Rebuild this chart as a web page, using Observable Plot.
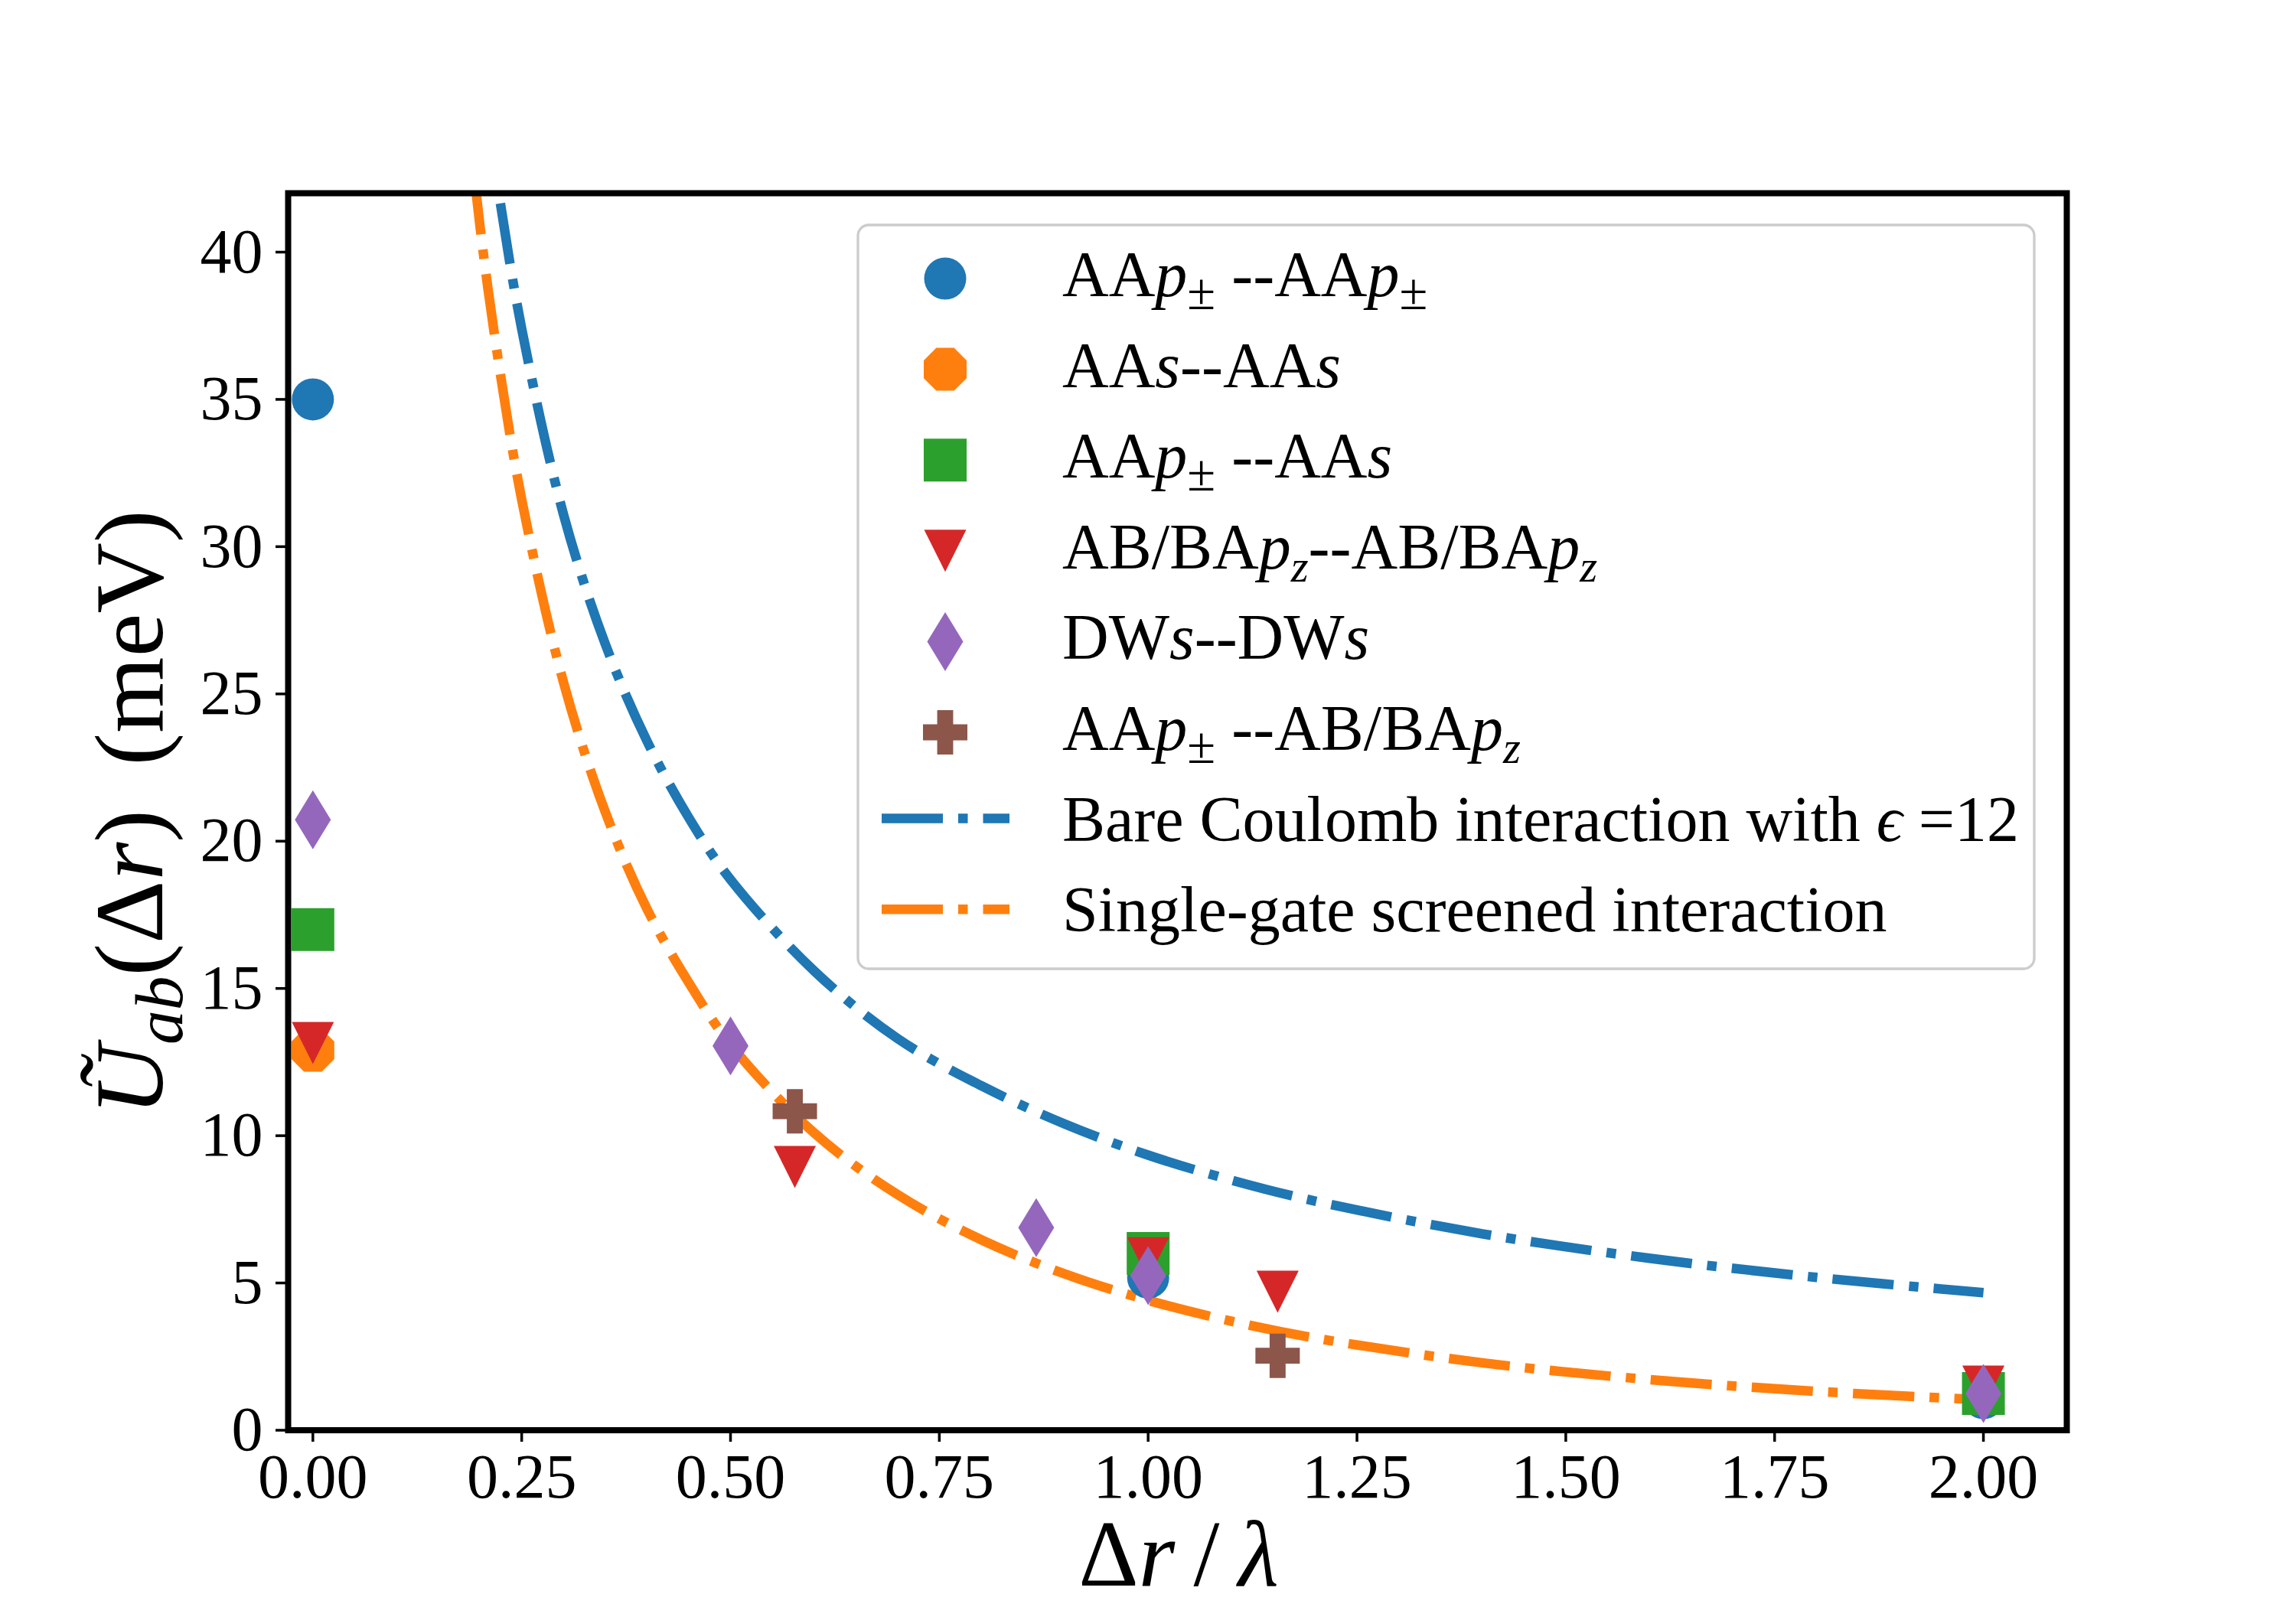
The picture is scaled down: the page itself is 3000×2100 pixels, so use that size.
<!DOCTYPE html>
<html>
<head>
<meta charset="utf-8">
<script src="https://cdn.jsdelivr.net/npm/d3@7"></script>
<script src="https://cdn.jsdelivr.net/npm/@observablehq/plot@0.6"></script>
<style>
  html, body { margin: 0; padding: 0; background: #fff; }
  #chart { width: 3000px; height: 2100px; }
</style>
</head>
<body>
<div id="chart"></div>
<script>
// ---------- data ----------
const xTicks = [0, 0.25, 0.5, 0.75, 1.0, 1.25, 1.5, 1.75, 2.0];
const yTicks = [0, 5, 10, 15, 20, 25, 30, 35, 40];

const seriesNames = [
  "AAp±--AAp±", "AAs--AAs", "AAp±--AAs", "AB/BApz--AB/BApz", "DWs--DWs", "AAp±--AB/BApz"
];
const seriesColors = ["#1f77b4", "#ff7f0e", "#2ca02c", "#d62728", "#9467bd", "#8c564b"];

const aapmX = [0, 1.0, 2.0];
const aapmY = [35.0, 5.18, 1.09];
const aasX = [0];
const aasY = [12.9];
const aapmAasX = [0, 1.0, 2.0];
const aapmAasY = [17.0, 6.0, 1.25];
const abbaX = [0, 0.577, 1.0, 1.155, 2.0];
const abbaY = [13.15, 8.94, 5.84, 4.7, 1.48];
const dwX = [0, 0.5, 0.866, 1.0, 2.0];
const dwY = [20.73, 13.05, 6.88, 5.25, 1.25];
const aapmAbbaX = [0.577, 1.155];
const aapmAbbaY = [10.83, 2.53];

const curveNames = ["Bare Coulomb interaction with ϵ =12", "Single-gate screened interaction"];
const curveColors = ["#1f77b4", "#ff7f0e"];
const curveX = [0.18, 0.2, 0.22, 0.25, 0.3, 0.35, 0.4, 0.45, 0.5, 0.6, 0.7, 0.8, 0.9, 1.0, 1.1, 1.2, 1.4, 1.6, 1.8, 2.0];
const coulombY = [51.9, 46.7, 42.5, 37.4, 31.1, 26.7, 23.4, 20.8, 18.7, 15.6, 13.3, 11.7, 10.4, 9.34, 8.49, 7.78, 6.67, 5.84, 5.19, 4.67];
const screenedY = [46.1, 40.9, 36.7, 31.6, 25.4, 21.0, 17.7, 15.2, 13.1, 10.1, 8.0, 6.47, 5.31, 4.41, 3.70, 3.13, 2.29, 1.72, 1.32, 1.03];

// ---------- helpers ----------
const pts = (xs, ys) => xs.map((x, i) => ({x, y: ys[i]}));

function polySymbol(vertices) {
  return {
    draw(ctx, size) {
      const r = Math.sqrt(size / Math.PI);
      ctx.moveTo(vertices[0][0] * r, vertices[0][1] * r);
      for (let k = 1; k < vertices.length; ++k) ctx.lineTo(vertices[k][0] * r, vertices[k][1] * r);
      ctx.closePath();
    }
  };
}
const a = 0.36;
const symSquare = polySymbol([[-1, -1], [1, -1], [1, 1], [-1, 1]]);
const symTriDown = polySymbol([[-1, -1], [1, -1], [0, 1]]);
const symThinDiamond = polySymbol([[0, -1], [0.61, 0], [0, 1], [-0.61, 0]]);
const symOctagon = polySymbol(d3.range(8).map(k => [Math.cos(Math.PI / 8 + k * Math.PI / 4), Math.sin(Math.PI / 8 + k * Math.PI / 4)]));
const symPlus = polySymbol([[-a, -1], [a, -1], [a, -a], [1, -a], [1, a], [a, a], [a, 1], [-a, 1], [-a, a], [-1, a], [-1, -a], [-a, -a]]);

const markerSpecs = [
  {sym: d3.symbolCircle, plotSym: "circle", r: 27.5},
  {sym: symOctagon, plotSym: symOctagon, r: 30.3},
  {sym: symSquare, plotSym: symSquare, r: 28},
  {sym: symTriDown, plotSym: symTriDown, r: 27.5},
  {sym: symThinDiamond, plotSym: symThinDiamond, r: 38.5},
  {sym: symPlus, plotSym: symPlus, r: 29}
];
const seriesData = [
  pts(aapmX, aapmY), pts(aasX, aasY), pts(aapmAasX, aapmAasY),
  pts(abbaX, abbaY), pts(dwX, dwY), pts(aapmAbbaX, aapmAbbaY)
];

const LW = 12.5;
const dash = [6.4 * LW, 1.6 * LW, 1.0 * LW, 1.6 * LW].join(",");

const W = 3000, H = 2100;
const svg = Plot.plot({
  width: W,
  height: H,
  marginTop: 252,
  marginRight: 300,
  marginBottom: 231.5,
  marginLeft: 376,
  x: {domain: [-0.0296, 2.0998]},
  y: {domain: [0, 42]},
  style: {fontFamily: "'Liberation Serif', 'Times New Roman', serif", fontSize: "82px", color: "#000", background: "#fff"},
  marks: [
    Plot.line(pts(curveX, coulombY), {x: "x", y: "y", stroke: curveColors[0], strokeWidth: LW, strokeDasharray: dash, strokeLinecap: "butt", curve: "catmull-rom", clip: true}),
    Plot.line(pts(curveX, screenedY), {x: "x", y: "y", stroke: curveColors[1], strokeWidth: LW, strokeDasharray: dash, strokeLinecap: "butt", curve: "catmull-rom", clip: true}),
    ...seriesData.map((d, i) => Plot.dot(d, {x: "x", y: "y", r: markerSpecs[i].r, symbol: markerSpecs[i].plotSym, fill: seriesColors[i], stroke: "none"})),
    Plot.axisX({ticks: xTicks, tickFormat: d3.format(".2f"), tickSize: 15.5, tickPadding: 14, strokeWidth: 3.5, fontSize: 82, label: null}),
    Plot.axisY({ticks: yTicks, tickFormat: d => String(d), tickSize: 16, tickPadding: 17, strokeWidth: 3.5, fontSize: 82, label: null}),
    Plot.frame({stroke: "#000", strokeWidth: 8})
  ]
});
document.getElementById("chart").appendChild(svg);

// ---------- axis titles and legend (text drawn on the SVG) ----------
const root = d3.select(svg);
const serif = "'Liberation Serif', 'Times New Roman', serif";

function richText(sel, segments, fs) {
  let shift = 0;
  segments.forEach(([t, s]) => {
    const sub = s === "sub" || s === "subi";
    const ital = s === "i" || s === "subi";
    const want = sub ? fs * 0.2 : 0;
    const ts = sel.append("tspan").text(t)
      .attr("font-style", ital ? "italic" : "normal")
      .attr("font-size", sub ? fs * (s === "sub" ? 0.8 : 0.7) : fs);
    if (want !== shift) { ts.attr("dy", want - shift); shift = want; }
  });
}

// y label
const yl = root.append("text")
  .attr("transform", "translate(212,1062) rotate(-90)")
  .attr("text-anchor", "middle")
  .attr("font-family", serif)
  .attr("font-size", 128)
  .attr("fill", "#000");
(function () {
  const fs = 128;
  yl.append("tspan").text("Ũ").attr("font-style", "italic");
  yl.append("tspan").text("ab").attr("font-style", "italic").attr("font-size", fs * 0.7).attr("dy", fs * 0.2);
  yl.append("tspan").text("(").attr("dy", -fs * 0.2);
  yl.append("tspan").text("Δ");
  yl.append("tspan").text("r").attr("font-style", "italic");
  yl.append("tspan").text(")\u2009");
  yl.append("tspan").text(" (meV)");
})();

// x label
const xl = root.append("text")
  .attr("x", 1540).attr("y", 2072)
  .attr("text-anchor", "middle")
  .attr("font-family", serif)
  .attr("font-size", 122)
  .attr("fill", "#000");
xl.append("tspan").text("Δ");
xl.append("tspan").text("r").attr("font-style", "italic");
xl.append("tspan").text("\u2009/\u2009");
xl.append("tspan").text("λ").attr("font-style", "italic");

// legend
const lg = root.append("g").attr("font-family", serif).attr("fill", "#000").attr("text-anchor", "start");
lg.append("rect")
  .attr("x", 1121).attr("y", 294).attr("width", 1537).attr("height", 972)
  .attr("rx", 14).attr("ry", 14)
  .attr("fill", "#fff").attr("fill-opacity", 0.8)
  .attr("stroke", "#cccccc").attr("stroke-width", 3.3);

const legendLabels = [
  [["AA", "n"], ["p", "i"], ["±", "sub"], [" --AA", "n"], ["p", "i"], ["±", "sub"]],
  [["AA", "n"], ["s", "i"], ["--AA", "n"], ["s", "i"]],
  [["AA", "n"], ["p", "i"], ["±", "sub"], [" --AA", "n"], ["s", "i"]],
  [["AB/BA", "n"], ["p", "i"], ["z", "subi"], ["--AB/BA", "n"], ["p", "i"], ["z", "subi"]],
  [["DW", "n"], ["s", "i"], ["--DW", "n"], ["s", "i"]],
  [["AA", "n"], ["p", "i"], ["±", "sub"], [" --AB/BA", "n"], ["p", "i"], ["z", "subi"]],
  [["Bare Coulomb interaction with ", "n"], ["ϵ", "i"], [" =12", "n"]],
  [[curveNames[1], "n"]]
];
const rowY0 = 364, rowStep = 118.6, fsLeg = 84;
legendLabels.forEach((segs, i) => {
  const cy = rowY0 + i * rowStep;
  if (i < 6) {
    const m = markerSpecs[i];
    lg.append("path")
      .attr("d", d3.symbol(m.sym, Math.PI * m.r * m.r)())
      .attr("transform", `translate(1235,${cy})`)
      .attr("fill", seriesColors[i]);
  } else {
    lg.append("line")
      .attr("x1", 1152).attr("x2", 1319)
      .attr("y1", cy - 6).attr("y2", cy - 6)
      .attr("stroke", curveColors[i - 6]).attr("stroke-width", LW)
      .attr("stroke-dasharray", dash);
  }
  const t = lg.append("text").attr("x", 1388).attr("y", cy + 23).attr("font-size", fsLeg).attr("text-anchor", "start");
  richText(t, segs, fsLeg);
});
</script>
</body>
</html>
